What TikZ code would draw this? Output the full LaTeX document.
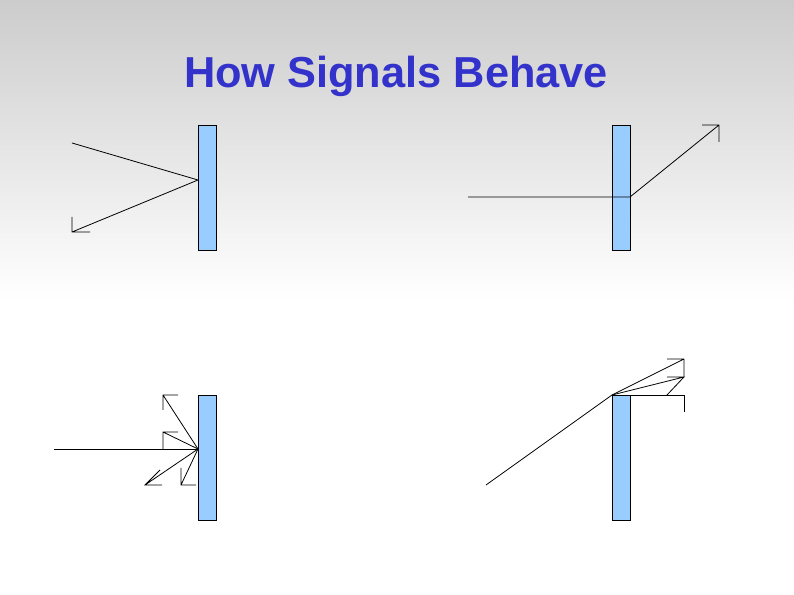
\documentclass[tikz,border=0pt]{standalone}
\usepackage{fontspec}
\setmainfont{Liberation Sans}
\begin{document}
\begin{tikzpicture}[x=0.75pt,y=-0.75pt,
  panel/.style={draw=black,fill={rgb,255:red,153;green,204;blue,255},line width=0.6pt},
  ray/.style={draw=black,line width=0.6pt}]
\useasboundingbox (0,0) rectangle (794,595);
\shade[top color={rgb,255:red,204;green,204;blue,204},bottom color=white] (0,0) rectangle (794,300);
\node[text={rgb,255:red,51;green,51;blue,204},font=\bfseries\fontsize{32.5}{36}\selectfont] (title) at (396,76) {How Signals Behave};
% top-left reflection
\node[panel,minimum width=13.5pt,minimum height=93.75pt,inner sep=0pt] (p1) at (207,187.5) {};
\coordinate (h1) at (198,180);
\draw[ray] (72,143) -- (h1) -- (72,232) (72,217) -- (72,232) -- (90,232);
% top-right transmission
\node[panel,minimum width=13.5pt,minimum height=93.75pt,inner sep=0pt] (p2) at (621,187.5) {};
\coordinate (h2) at (630,197);
\draw[ray] (468,197) -- (h2) -- (719,125) (702,125) -- (719,125) -- (719,142);
% bottom-left scattering
\node[panel,minimum width=13.5pt,minimum height=93.75pt,inner sep=0pt] (p3) at (207,457.5) {};
\coordinate (h3) at (198,449);
\draw[ray] (54,449) -- (h3);
\draw[ray] (h3) -- (163,395) (178,395) -- (163,395) -- (163,410);
\draw[ray] (h3) -- (163,432) (178,432) -- (163,432) -- (163,449);
\draw[ray] (h3) -- (145,485) (162,485) -- (145,485) -- (160,470);
\draw[ray] (h3) -- (181,485) (196,485) -- (181,485) -- (181,468);
% bottom-right diffraction
\node[panel,minimum width=13.5pt,minimum height=93.75pt,inner sep=0pt] (p4) at (621,457.5) {};
\coordinate (h4) at (612,395);
\draw[ray] (486,485) -- (h4);
\draw[ray] (h4) -- (684,359) (667,359) -- (684,359) -- (684,377);
\draw[ray] (h4) -- (684,377) (667,377) -- (684,377) -- (667,395);
\draw[ray] (h4) -- (684,395) -- (684,412);
\end{tikzpicture}
\end{document}
